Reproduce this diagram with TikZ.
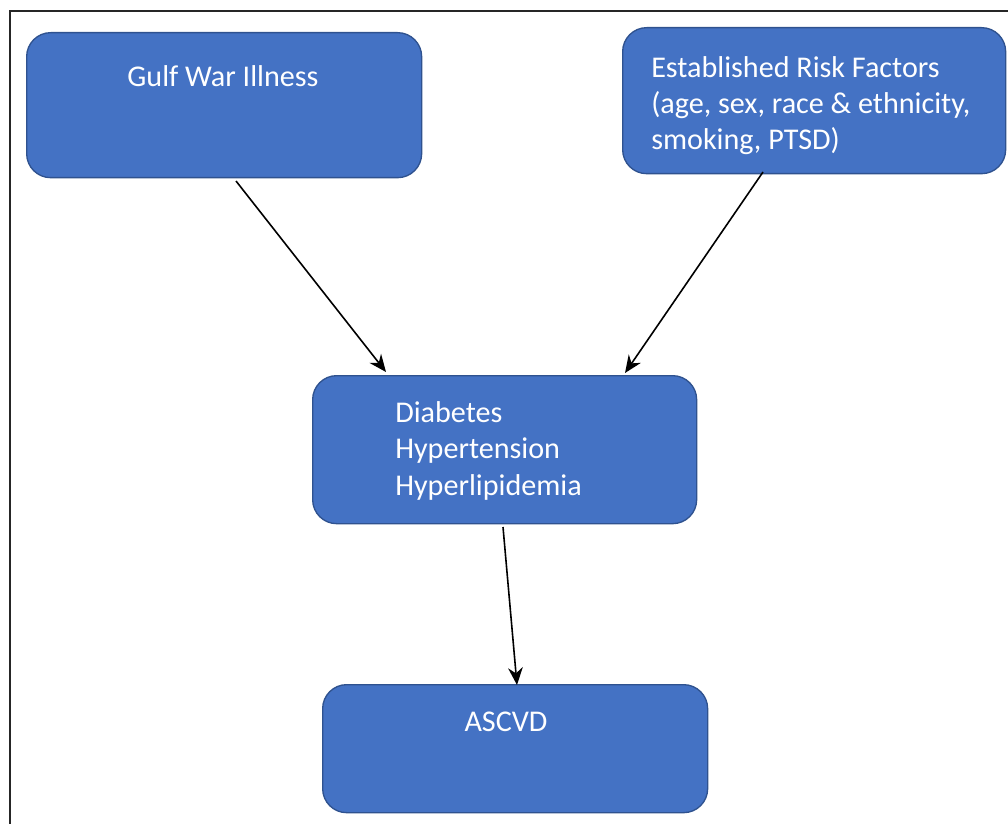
\documentclass[tikz,border=0pt]{standalone}
\usepackage{fontspec}
\setmainfont{Carlito}
\usetikzlibrary{arrows.meta}
\definecolor{boxblue}{HTML}{4472C4}
\definecolor{boxedge}{HTML}{2F528F}
\tikzset{
  box/.style={draw=boxedge, line width=1pt, fill=boxblue, rounded corners=18pt, inner sep=0pt, anchor=north west},
  lbl/.style={text=white, inner sep=0pt, font=\fontsize{22.6}{27.2}\selectfont},
  arr/.style={draw=black, line width=1.2pt, -{Stealth[length=13pt,width=11pt]}},
  frame/.style={draw=black!85, line width=1.5pt}
}
\begin{document}
\begin{tikzpicture}[x=0.75pt,y=-0.75pt]
\useasboundingbox (0,0) rectangle (1008,824);
\draw[frame] (10,11) rectangle (1030,850);
% boxes
\node[box, minimum width=395*0.75pt, minimum height=145*0.75pt] (gwi) at (26,32) {};
\node[box, minimum width=383*0.75pt, minimum height=146*0.75pt] (erf) at (622,27) {};
\node[box, minimum width=384*0.75pt, minimum height=148*0.75pt] (mid) at (312,375) {};
\node[box, minimum width=385*0.75pt, minimum height=128*0.75pt] (asc) at (322,684) {};
% texts
\node[lbl, anchor=base] (tg) at (223,87) {Gulf War Illness};
\node[lbl, anchor=base west, align=left] (te) at (651,150) {Established Risk Factors\\(age, sex, race \& ethnicity,\\smoking, PTSD)};
\node[lbl, anchor=base west, align=left] (tm) at (395,495) {Diabetes\\Hypertension\\Hyperlipidemia};
\node[lbl, anchor=base] (ta) at (506,731) {ASCVD};
% connectors
\coordinate (g1) at (236,181);
\coordinate (g2) at (386,372);
\coordinate (e1) at (763,172);
\coordinate (e2) at (625,373);
\coordinate (m1) at (503,527);
\coordinate (m2) at (517,685);
\draw[arr] (g1) -- (g2);
\draw[arr] (e1) -- (e2);
\draw[arr] (m1) -- (m2);
\end{tikzpicture}
\end{document}
